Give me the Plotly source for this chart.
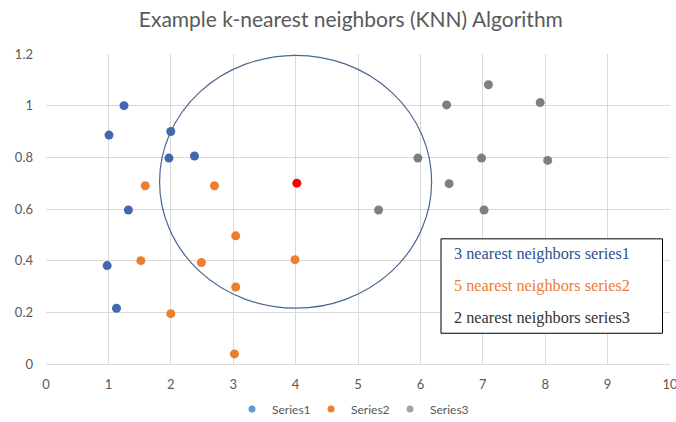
import plotly.graph_objects as go

# Data
s1_x = [1.25, 1.01, 2.00, 1.97, 2.38, 1.32, 0.98, 1.13]
s1_y = [1.00, 0.886, 0.90, 0.797, 0.805, 0.596, 0.381, 0.216]

s2_x = [1.59, 2.70, 3.04, 1.52, 2.49, 3.99, 3.04, 2.00, 3.02]
s2_y = [0.69, 0.69, 0.496, 0.40, 0.393, 0.404, 0.298, 0.195, 0.039]

s3_x = [7.09, 6.42, 7.92, 5.96, 6.98, 8.04, 6.46, 5.33, 7.02]
s3_y = [1.081, 1.003, 1.012, 0.797, 0.797, 0.788, 0.698, 0.596, 0.596]

query_x = [4.02]
query_y = [0.70]

series_names = ["Series1", "Series2", "Series3"]
note_lines = ["3 nearest neighbors series1",
              "5 nearest neighbors series2",
              "2 nearest neighbors series3"]

x_ticks = list(range(0, 11))
y_ticks = [0, 0.2, 0.4, 0.6, 0.8, 1.0, 1.2]
y_tick_text = ["0", "0.2", "0.4", "0.6", "0.8", "1", "1.2"]

point_colors = ["#4169B0", "#ED7D31", "#7F7F7F"]
legend_colors = ["#5B9BD5", "#ED7D31", "#A5A5A5"]
note_colors = ["#2F4F8F", "#ED7D31", "#333333"]

fig = go.Figure()

for xs, ys, c in [(s1_x, s1_y, point_colors[0]),
                  (s2_x, s2_y, point_colors[1]),
                  (s3_x, s3_y, point_colors[2])]:
    fig.add_trace(go.Scatter(x=xs, y=ys, mode="markers",
                             marker=dict(color=c, size=9),
                             showlegend=False, hoverinfo="x+y"))

fig.add_trace(go.Scatter(x=query_x, y=query_y, mode="markers",
                         marker=dict(color="#FF0000", size=9),
                         showlegend=False))

for name, c in zip(series_names, legend_colors):
    fig.add_trace(go.Scatter(x=[None], y=[None], mode="markers", name=name,
                             marker=dict(color=c, size=7)))

# circle around query point
fig.add_shape(type="circle", xref="x", yref="y",
              x0=1.82, x1=6.18, y0=0.216, y1=1.195,
              line=dict(color="#4A6690", width=1.2), layer="above")

# note box
fig.add_shape(type="rect", xref="x", yref="y",
              x0=6.33, x1=9.88, y0=0.119, y1=0.4845,
              line=dict(color="#000000", width=1), fillcolor="white",
              layer="above")

for txt, c, yy in zip(note_lines, note_colors, [0.426, 0.302, 0.181]):
    fig.add_annotation(x=6.50, y=yy, xref="x", yref="y", text=txt,
                       showarrow=False, xanchor="left", yanchor="middle",
                       font=dict(family="Liberation Serif", size=16.3, color=c))

fig.update_layout(
    width=676, height=422,
    margin=dict(l=46, r=6, t=54, b=58, autoexpand=False),
    paper_bgcolor="white", plot_bgcolor="white",
    title=dict(text="Example k-nearest neighbors (KNN) Algorithm",
               x=0.519, xanchor="center", y=1 - 20 / 422, yanchor="middle",
               font=dict(family="Lato", size=21, color="#595959")),
    font=dict(family="Lato", color="#595959"),
    legend=dict(orientation="h", x=0.488, xanchor="center", y=-0.145,
                yanchor="middle", font=dict(size=12, color="#595959"),
                itemwidth=30, entrywidth=34, tracegroupgap=0),
    showlegend=True,
)

fig.update_xaxes(range=[0, 10], tickvals=x_ticks, showgrid=True,
                 gridcolor="#D9D9D9", gridwidth=1, zeroline=False,
                 showline=True, linecolor="#D9D9D9", mirror=False,
                 ticks="", ticklabelstandoff=8, automargin=False,
                 ticklabeloverflow="allow",
                 tickfont=dict(size=13, color="#595959"))
fig.update_yaxes(range=[0, 1.2], tickvals=y_ticks, ticktext=y_tick_text,
                 showgrid=True, gridcolor="#D9D9D9", gridwidth=1,
                 zeroline=False, showline=False, ticks="",
                 ticklabelstandoff=12, automargin=False,
                 tickfont=dict(size=13, color="#595959"))

fig.write_html("out.html",
               config={"displayModeBar": False},
               post_script="document.body.style.margin='0';")
